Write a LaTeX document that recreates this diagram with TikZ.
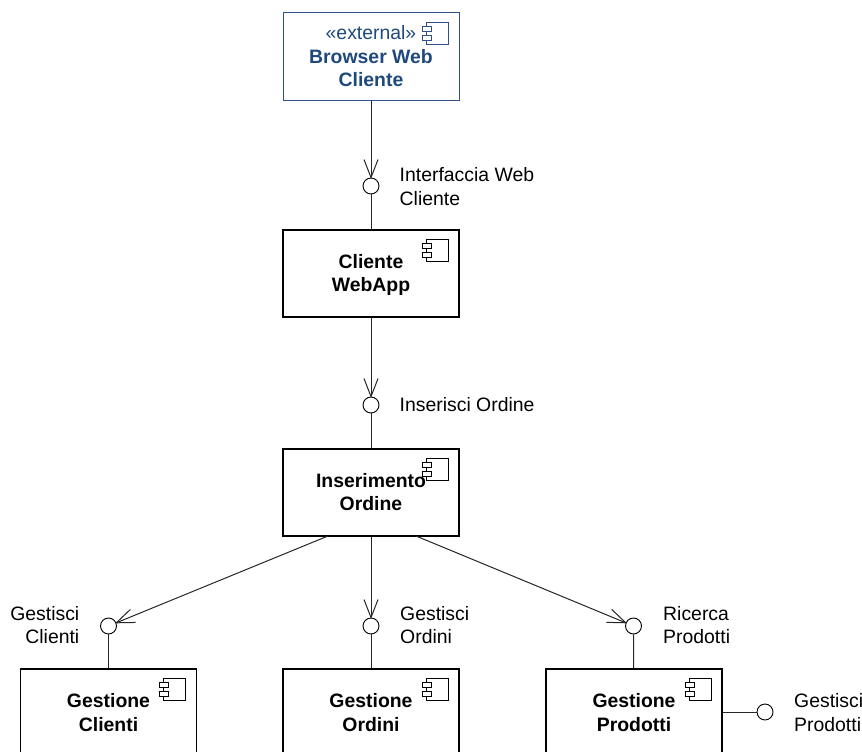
\documentclass[tikz,border=0pt]{standalone}
\usepackage{fontspec}
\setmainfont{Liberation Sans}
\usetikzlibrary{arrows.meta,calc}
\definecolor{extblue}{HTML}{2F5188}
\definecolor{exttext}{HTML}{1F497D}
\pgfdeclarearrow{
  name=OpenVee,
  setup code={
    \pgfarrowssettipend{0pt}
    \pgfarrowssetlineend{-0.5pt}
    \pgfarrowssetvisualbackend{-18pt}
    \pgfarrowssetbackend{-18pt}
    \pgfarrowshullpoint{0pt}{0pt}
    \pgfarrowshullpoint{-18pt}{7pt}
    \pgfarrowshullpoint{-18pt}{-7pt}
  },
  drawing code={
    \pgfsetmiterjoin
    \pgfpathmoveto{\pgfqpoint{-18pt}{7pt}}
    \pgfpathlineto{\pgfqpoint{0pt}{0pt}}
    \pgfpathlineto{\pgfqpoint{-18pt}{-7pt}}
    \pgfusepathqstroke
  }
}
\newcommand{\compicon}[2][black]{%
  \draw[#1,line width=0.9pt,fill=white] ($(#2.north east)+(-33.5,10)$) rectangle ($(#2.north east)+(-11.5,32)$);
  \draw[#1,line width=0.9pt,fill=white] ($(#2.north east)+(-37.5,14)$) rectangle ($(#2.north east)+(-28.5,19)$);
  \draw[#1,line width=0.9pt,fill=white] ($(#2.north east)+(-37.5,23)$) rectangle ($(#2.north east)+(-28.5,28)$);
}
\tikzset{
  x=1pt,y=-1pt,
  txt/.style={font=\fontsize{19.4}{23.5}\selectfont,inner sep=0pt},
  comp/.style={draw=black,line width=1.1pt,fill=white,minimum width=176pt,minimum height=87pt,inner sep=0pt},
  ext/.style={comp,draw=extblue,line width=1pt},
  comptext/.style={inner sep=0pt,align=center,font=\fontsize{19.4}{23.5}\selectfont\bfseries},
  iface/.style={circle,draw=black,line width=0.9pt,fill=white,minimum size=16pt,inner sep=0pt},
  conn/.style={line width=1pt,draw=black!85},
  dep/.style={conn,-{OpenVee}},
}
\begin{document}
\begin{tikzpicture}
\useasboundingbox (0,0) rectangle (862,752);
\node[ext] (browser) at (371,56.5) {};
\node[comp] (cliente) at (371,273.5) {};
\node[comp] (inserimento) at (371,492.5) {};
\node[comp] (gclienti) at (108.5,712.5) {};
\node[comp] (gordini) at (371,712.5) {};
\node[comp] (gprodotti) at (634,712.5) {};
\compicon[extblue]{browser}
\compicon{cliente}
\compicon{inserimento}
\compicon{gclienti}
\compicon{gordini}
\compicon{gprodotti}
\node[comptext,text=exttext] (tbrowser) at (371,56.5) {{\mdseries «external»}\\Browser Web\\Cliente};
\node[comptext] (tcliente) at (371,275) {Cliente\\WebApp};
\node[comptext] (tinserimento) at (371,492) {Inserimento\\Ordine};
\node[comptext] (tgclienti) at (108.5,712.5) {Gestione\\Clienti};
\node[comptext] (tgordini) at (371,712.5) {Gestione\\Ordini};
\node[comptext] (tgprodotti) at (634,712.5) {Gestione\\Prodotti};
\node[iface] (iweb) at (371,186) {};
\node[iface] (iins) at (371,405) {};
\node[iface] (icli) at (108.5,626) {};
\node[iface] (iord) at (371,626) {};
\node[iface] (iric) at (633.5,626) {};
\node[iface] (ipro) at (765,712) {};
\coordinate (insL) at (328,536);
\coordinate (insR) at (416,536);
\draw[dep] (browser) -- (iweb);
\draw[conn] (iweb) -- (cliente);
\draw[dep] (cliente) -- (iins);
\draw[conn] (iins) -- (inserimento);
\draw[dep] (insL) -- (icli);
\draw[dep] (inserimento) -- (iord);
\draw[dep] (insR) -- (iric);
\draw[conn] (icli) -- (gclienti);
\draw[conn] (iord) -- (gordini);
\draw[conn] (iric) -- (gprodotti);
\draw[conn] (gprodotti.east |- ipro) -- (ipro);
\node[txt,align=left,anchor=west] (lweb) at (399.5,186.5) {Interfaccia Web\\Cliente};
\node[txt,anchor=west] (lins) at (399.5,404.5) {Inserisci Ordine};
\node[txt,align=right,anchor=east] (lcli) at (79.5,625) {Gestisci\\Clienti};
\node[txt,align=left,anchor=west] (lord) at (400,625) {Gestisci\\Ordini};
\node[txt,align=left,anchor=west] (lric) at (663,625) {Ricerca\\Prodotti};
\node[txt,align=left,anchor=west] (lpro) at (794,712.5) {Gestisci\\Prodotti};
\end{tikzpicture}
\end{document}
